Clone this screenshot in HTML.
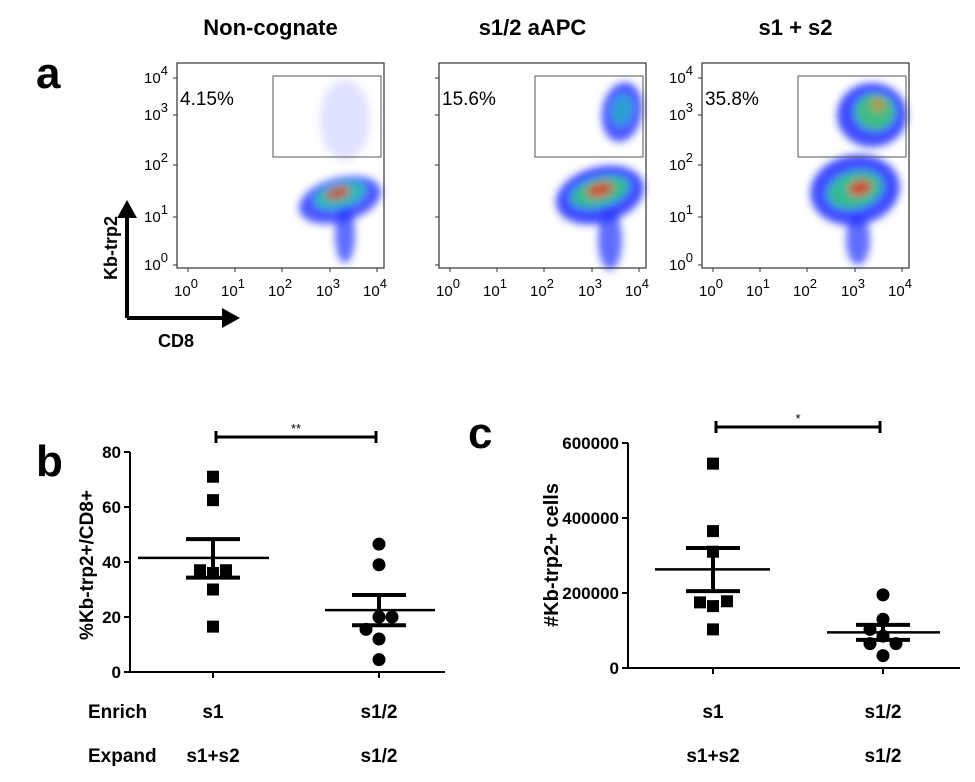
<!DOCTYPE html>
<html><head><meta charset="utf-8"><style>
body{margin:0;background:#fff;width:975px;height:782px;overflow:hidden}
svg{display:block;font-family:"Liberation Sans",Arial,sans-serif}
</style></head><body>
<svg id="fig" width="975" height="782" viewBox="0 0 975 782">
<defs>
<filter id="bl" x="-50%" y="-50%" width="200%" height="200%"><feGaussianBlur stdDeviation="4"/></filter>
</defs>
<g id="panelA"></g>
<g id="panelB"></g>
<g id="panelC"></g>
</svg>
<script>
const NS="http://www.w3.org/2000/svg";
function mk(parent,tag,attrs,text){const e=document.createElementNS(NS,tag);for(const k in attrs)e.setAttribute(k,attrs[k]);if(text!==undefined)e.textContent=text;parent.appendChild(e);return e;}

// ---------- Panel A: flow plots ----------
const flowTitles=["Non-cognate","s1/2 aAPC","s1 + s2"];
const gatePercents=["4.15%","15.6%","35.8%"];
const decadeLabels=["0","1","2","3","4"];
const A=document.getElementById('panelA');
const plotLefts=[177,439,702];
const blobs=[
 [[340,200,42,22,-15,'#2030ff',0.8],[345,235,10,28,0,'#2030ff',0.7],[340,195,26,12,-15,'#20d0a0',0.8],[338,193,12,6,-15,'#ff3010',0.7],[345,120,25,40,0,'#6070ff',0.2]],
 [[600,195,45,28,-15,'#2030ff',0.85],[610,240,12,30,0,'#2030ff',0.7],[622,112,20,30,10,'#2030ff',0.8],[600,192,30,14,-15,'#30d080',0.85],[600,190,14,7,-15,'#ff3010',0.75],[622,110,10,15,10,'#20c0c0',0.7]],
 [[855,190,45,35,-10,'#2030ff',0.85],[872,115,35,32,0,'#2030ff',0.85],[858,240,12,25,0,'#2030ff',0.7],[855,190,28,18,-15,'#30d080',0.85],[875,112,20,18,0,'#40d070',0.85],[860,188,12,8,-15,'#ff3010',0.75],[878,105,7,7,0,'#ff8020',0.6]]
];
const yTickYs=[265,217,165,115,78];
const xTickOff=[11,58,105,153,200];
for(let p=0;p<3;p++){
  const L=plotLefts[p],T=63,W=207,H=205;
  const g=mk(A,'g',{});
  
  
  const t=mk(A,'text',{x:L+W/2-10,y:35,'text-anchor':'middle','font-size':'22','font-weight':'bold'},flowTitles[p]);
  
  
  const cg=mk(g,'g',{filter:'url(#bl)'});
  blobs[p].forEach(b=>{mk(cg,'ellipse',{cx:b[0],cy:b[1],rx:b[2],ry:b[3],transform:`rotate(${b[4]} ${b[0]} ${b[1]})`,fill:b[5],opacity:b[6]});});
  mk(g,'rect',{x:L,y:T,width:W,height:H,fill:'none',stroke:'#333','stroke-width':1.2});
  const gate=mk(g,'rect',{x:L+96,y:76,width:108,height:81,fill:'none',stroke:'#555','stroke-width':1});
  
  
  const pc=mk(g,'text',{x:L+3,y:105,'font-size':'19'},gatePercents[p]);
  
  
  for(let i=0;i<5;i++){
    if(p!==1){
      const yt=mk(g,'text',{x:L-33,y:yTickYs[i]+5,'font-size':'15'});
      
      
      yt.innerHTML='10<tspan dy="-8" font-size="13">'+decadeLabels[i]+'</tspan>';
    }
    mk(g,'line',{x1:L-4,x2:L,y1:yTickYs[i],y2:yTickYs[i],stroke:'#333'});
    const x=L+xTickOff[i];
    mk(g,'line',{x1:x,x2:x,y1:T+H,y2:T+H+4,stroke:'#333'});
    const xt=mk(g,'text',{x:x-14,y:296,'font-size':'15'});
    
    
    xt.innerHTML='10<tspan dy="-8" font-size="13">'+decadeLabels[i]+'</tspan>';
  }
}
let e;
e=mk(A,'text',{x:36,y:88,'font-size':'44','font-weight':'bold'},'a');


mk(A,'path',{d:'M127,318 V212 M127,318 H228',stroke:'#000','stroke-width':4,fill:'none'});
mk(A,'path',{d:'M117,218 L127,200 L137,218 Z M222,308 L240,318 L222,328 Z',fill:'#000'});
e=mk(A,'text',{x:0,y:0,'font-size':'18','font-weight':'bold','text-anchor':'middle',transform:'translate(117,248) rotate(-90)'},'Kb-trp2');


e=mk(A,'text',{x:158,y:347,'font-size':'18','font-weight':'bold'},'CD8');



// ---------- Panel B data ----------
const catsB=["s1","s1/2"];
const bS1=[71,62.5,37,36,37,30,16.5];
const bS1dx=[0,0,-13,0,13,0,0];
const bS12=[46.5,39,20,20,15.5,12,4.5];
const bS12dx=[0,0,0,13,-13,0,0];
const bMean=[41.5,22.5];
const bSemHi=[48.3,28];
const bSemLo=[34.3,17];
const bTicks=[0,20,40,60,80];
// ---------- Panel C data ----------
const cS1=[545000,365000,310000,175000,165000,178000,103000];
const cS1dx=[0,0,0,-13,0,14,0];
const cS12=[195000,130000,103000,85000,65000,65000,33000];
const cS12dx=[0,0,-13,0,-13,13,0];
const cMean=[263000,95000];
const cSemHi=[320000,115000];
const cSemLo=[205000,75000];
const cTicks=[0,200000,400000,600000];

function dotPlot(G,cfg){
  const y=v=>cfg.y0-(v/cfg.max)*(cfg.y0-cfg.yTop);
  const ax=mk(G,'path',{d:`M${cfg.ax},${cfg.yTop} V${cfg.y0} H${cfg.xEnd}`,stroke:'#000','stroke-width':2,fill:'none'});
  
  
  cfg.ticks.forEach(t=>{
    mk(G,'line',{x1:cfg.ax-6,x2:cfg.ax,y1:y(t),y2:y(t),stroke:'#000','stroke-width':2});
    const tl=mk(G,'text',{x:cfg.ax-9,y:y(t)+6,'text-anchor':'end','font-size':'17','font-weight':'bold'},String(t));
    
    
  });
  cfg.cx.forEach(x=>mk(G,'line',{x1:x,x2:x,y1:cfg.y0,y2:cfg.y0+6,stroke:'#000','stroke-width':2}));
  cfg.series.forEach((s,i)=>{
    s.vals.forEach((v,j)=>{
      const px=cfg.cx[i]+s.dx[j],py=y(v);
      let m;
      if(i===0) m=mk(G,'rect',{x:px-6,y:py-6,width:12,height:12,fill:'#000'});
      else m=mk(G,'circle',{cx:px,cy:py,r:6.5,fill:'#000'});
      
      
    });
    const mw=cfg.mw[i];
    const ml=mk(G,'line',{x1:cfg.cx[i]+mw[0],x2:cfg.cx[i]+mw[1],y1:y(cfg.mean[i]),y2:y(cfg.mean[i]),stroke:'#000','stroke-width':2.5});
    
    
    const sb=mk(G,'path',{d:`M${cfg.cx[i]-27},${y(cfg.hi[i])} H${cfg.cx[i]+27} M${cfg.cx[i]-27},${y(cfg.lo[i])} H${cfg.cx[i]+27} M${cfg.cx[i]},${y(cfg.hi[i])} V${y(cfg.lo[i])}`,stroke:'#000','stroke-width':4,fill:'none'});
    
    
  });
  const br=mk(G,'path',{d:`M${cfg.cx[0]+3},${cfg.brY-6} V${cfg.brY+6} M${cfg.cx[0]+3},${cfg.brY} H${cfg.cx[1]-3} M${cfg.cx[1]-3},${cfg.brY-6} V${cfg.brY+6}`,stroke:'#000','stroke-width':3,fill:'none'});
  
  
  const st=mk(G,'text',{x:(cfg.cx[0]+cfg.cx[1])/2,y:cfg.brY-4,'text-anchor':'middle','font-size':'13'},cfg.star);
  
  
  const yt=mk(G,'text',{x:0,y:0,'text-anchor':'middle','font-size':cfg.titleSize,'font-weight':'bold',transform:`translate(${cfg.titleX},${cfg.titleY}) rotate(-90)`},cfg.title);
  
  
  ["Enrich","Expand"].forEach((r,k)=>{
    const labs=k===0?["s1","s1/2"]:["s1+s2","s1/2"];
    labs.forEach((l,i)=>{
      const tx=mk(G,'text',{x:cfg.cx[i],y:718+k*44,'text-anchor':'middle','font-size':'19','font-weight':'bold'},l);
      
      
    });
  });
}
const B=document.getElementById('panelB');
dotPlot(B,{ax:130,y0:672,yTop:452,max:80,xEnd:445,cx:[213,379],ticks:bTicks,
  series:[{vals:bS1,dx:bS1dx},{vals:bS12,dx:bS12dx}],mean:bMean,hi:bSemHi,lo:bSemLo,
  mw:[[-75,56],[-54,56]],brY:437,star:'**',title:'%Kb-trp2+/CD8+',titleSize:19,titleX:93,titleY:565});
const C=document.getElementById('panelC');
dotPlot(C,{ax:628,y0:668,yTop:443,max:600000,xEnd:960,cx:[713,883],ticks:cTicks,
  series:[{vals:cS1,dx:cS1dx},{vals:cS12,dx:cS12dx}],mean:cMean,hi:cSemHi,lo:cSemLo,
  mw:[[-58,57],[-56,57]],brY:427,star:'*',title:'#Kb-trp2+ cells',titleSize:20,titleX:558,titleY:555});
["Enrich","Expand"].forEach((r,k)=>{
  const t=mk(B,'text',{x:88,y:718+k*44,'font-size':'19','font-weight':'bold'},r);
  
  
});
e=mk(B,'text',{x:36,y:476,'font-size':'44','font-weight':'bold'},'b');


e=mk(C,'text',{x:468,y:448,'font-size':'44','font-weight':'bold'},'c');


</script>
</body></html>
